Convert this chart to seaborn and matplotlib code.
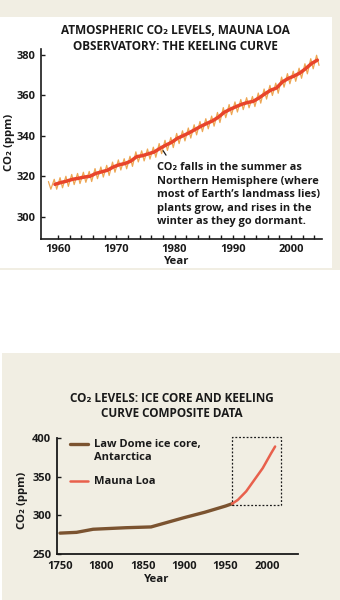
import numpy as np
import pandas as pd
import matplotlib
matplotlib.use("Agg")
import matplotlib.pyplot as plt
from matplotlib.patches import Rectangle
from matplotlib.lines import Line2D
import seaborn as sns

# ---------------- data ----------------
# Mauna Loa annual mean CO2 (ppm), 1959-2004 (red trend)
trend_years = list(range(1959, 2005))
trend_ppm = [316.0, 316.9, 317.6, 318.5, 319.0, 319.6, 320.0, 321.4, 322.2, 323.0,
             324.6, 325.7, 326.3, 327.5, 329.7, 330.2, 331.1, 332.0, 333.8, 335.4,
             336.8, 338.8, 340.1, 341.5, 343.1, 344.7, 346.1, 347.4, 349.2, 351.6,
             353.1, 354.4, 355.6, 356.5, 357.1, 358.8, 360.8, 362.6, 363.7, 366.7,
             368.4, 369.6, 371.1, 373.3, 375.8, 377.5]

# seasonal extremes per year (spring peak / autumn trough), 1958-2004
season_years = list(range(1958, 2005))
peak_ppm = [317.4, 318.5, 319.3, 320.0, 320.9, 321.4, 322.0, 322.4, 323.8, 324.6,
            325.4, 327.0, 328.1, 328.7, 329.9, 332.1, 332.6, 333.5, 334.4, 336.2,
            337.8, 339.2, 341.2, 342.5, 343.9, 345.5, 347.1, 348.5, 349.8, 351.6,
            354.0, 355.5, 356.8, 358.0, 358.9, 359.5, 361.2, 363.2, 365.0, 366.1,
            369.1, 370.8, 372.0, 373.5, 375.7, 378.2, 379.9]
trough_ppm = [313.6, 313.6, 314.3, 315.0, 315.9, 316.4, 317.0, 317.4, 318.8, 319.6,
              320.4, 322.0, 323.1, 323.7, 324.9, 327.1, 327.6, 328.5, 329.4, 331.2,
              332.8, 334.2, 336.2, 337.5, 338.9, 340.5, 342.1, 343.5, 344.8, 346.6,
              349.0, 350.5, 351.8, 353.0, 353.9, 354.5, 356.2, 358.2, 360.0, 361.1,
              364.1, 365.8, 367.0, 368.5, 370.7, 373.2, 374.9]

# composite chart
law_dome_years = [1750, 1770, 1790, 1810, 1830, 1860, 1880, 1900, 1925, 1950, 1958]
law_dome_ppm = [277, 278, 282, 283, 284, 285, 291, 297, 304, 312, 315]
mlo_years = [1958, 1965, 1975, 1985, 1995, 2005, 2010]
mlo_ppm = [315, 320, 331, 346, 361, 380, 389]

top_yticks = [300, 320, 340, 360, 380]
bot_yticks = [250, 300, 350, 400]
bot_xticks = [1750, 1800, 1850, 1900, 1950, 2000]

# ---------------- style ----------------
sns.set_style("ticks")
FAM = ["Open Sans", "DejaVu Sans"]
plt.rcParams["font.family"] = FAM
plt.rcParams["font.weight"] = "bold"
TXT = "#1a1a1a"
BEIGE = "#f1eee3"
TICK_FS = 8.0
TITLE_FS = 8.5
LAB_FS = 8.2

W, H = 340, 600
fig = plt.figure(figsize=(W / 100, H / 100), dpi=100)
fig.patch.set_facecolor("white")

def frect(x0, y0, x1, y1, color):
    fig.patches.append(Rectangle((x0 / W, 1 - y1 / H), (x1 - x0) / W, (y1 - y0) / H,
                                 transform=fig.transFigure, facecolor=color,
                                 edgecolor="none", zorder=-10))

frect(0, 0, 340, 270, BEIGE)
frect(0, 17, 332, 268, "white")
frect(2, 353, 340, 600, BEIGE)

def add_ax(x0, y0, x1, y1):
    ax = fig.add_axes([x0 / W, 1 - y1 / H, (x1 - x0) / W, (y1 - y0) / H])
    ax.patch.set_alpha(0)
    return ax

# ---------------- top chart ----------------
ax1 = add_ax(41, 49, 322, 238.5)
sx, sy = [], []
for yr, p, t in zip(season_years, peak_ppm, trough_ppm):
    sx += [yr + 0.37, yr + 0.79]
    sy += [p, t]
sdf = pd.DataFrame({"x": sx, "y": sy})
sns.lineplot(data=sdf, x="x", y="y", ax=ax1, sort=False, estimator=None,
             color="#eda653", lw=0.9)
tdf = pd.DataFrame({"x": np.array(trend_years) + 0.5, "y": trend_ppm})
sns.lineplot(data=tdf, x="x", y="y", ax=ax1, sort=False, estimator=None,
             color="#e8442a", lw=2.5)

ax1.set_xlim(1957.1, 2005.3)
ax1.set_ylim(289.2, 383)
xt = list(range(1960, 2005, 2))
ax1.set_xticks(xt)
ax1.set_xticklabels([str(v) if v % 10 == 0 else "" for v in xt])
ax1.set_yticks(top_yticks)
ax1.tick_params(direction="in", length=3, width=1, colors=TXT,
                labelsize=TICK_FS, pad=4)
for s in ["top", "right"]:
    ax1.spines[s].set_visible(False)
for s in ["left", "bottom"]:
    ax1.spines[s].set_linewidth(1.2)
    ax1.spines[s].set_color(TXT)
ax1.set_xlabel("")
ax1.set_ylabel("")
for lab in ax1.get_xticklabels() + ax1.get_yticklabels():
    lab.set_fontweight("bold")

fig.text(175 / W, 1 - 30 / H, "ATMOSPHERIC CO\u2082 LEVELS, MAUNA LOA", ha="center",
         va="center", fontsize=TITLE_FS, fontweight="bold", color=TXT, family=FAM)
fig.text(175 / W, 1 - 46 / H, "OBSERVATORY: THE KEELING CURVE", ha="center",
         va="center", fontsize=TITLE_FS, fontweight="bold", color=TXT, family=FAM)
fig.text(10 / W, 1 - 142 / H, "CO\u2082 (ppm)", rotation=90, ha="center",
         va="center", fontsize=LAB_FS, fontweight="bold", color=TXT, family=FAM)
fig.text(177 / W, 1 - 262 / H, "Year", ha="center", va="center", fontsize=LAB_FS,
         fontweight="bold", color=TXT, family=FAM)

ax1.annotate("", xy=(1977.8, 333.8), xytext=(1978.8, 329.3),
             arrowprops=dict(arrowstyle="-", color=TXT, lw=0.9))
note = ("CO\u2082 falls in the summer as\nNorthern Hemisphere (where\n"
        "most of Earth\u2019s landmass lies)\nplants grow, and rises in the\n"
        "winter as they go dormant.")
fig.text(157 / W, 1 - 162.5 / H, note, ha="left", va="top", fontsize=7.9,
         fontweight="bold", color=TXT, family=FAM, linespacing=1.31)

# ---------------- bottom chart ----------------
ax2 = add_ax(56.7, 438, 298.3, 554)
ldf = pd.DataFrame({"x": law_dome_years, "y": law_dome_ppm})
sns.lineplot(data=ldf, x="x", y="y", ax=ax2, estimator=None, color="#7b5330",
             lw=2.4)
mdf = pd.DataFrame({"x": mlo_years, "y": mlo_ppm})
sns.lineplot(data=mdf, x="x", y="y", ax=ax2, estimator=None, color="#e8604c",
             lw=1.8)
ax2.set_xlim(1746, 2038)
ax2.set_ylim(250, 400)
ax2.set_xticks(bot_xticks)
ax2.set_yticks(bot_yticks)
ax2.tick_params(axis="y", direction="in", length=3, width=1, colors=TXT,
                labelsize=TICK_FS, pad=4)
ax2.tick_params(axis="x", length=0, colors=TXT, labelsize=TICK_FS, pad=5)
for s in ["top", "right"]:
    ax2.spines[s].set_visible(False)
for s in ["left", "bottom"]:
    ax2.spines[s].set_linewidth(1.3)
    ax2.spines[s].set_color(TXT)
ax2.set_xlabel("")
ax2.set_ylabel("")
for lab in ax2.get_xticklabels() + ax2.get_yticklabels():
    lab.set_fontweight("bold")

# dashed highlight box around the Mauna Loa segment
bx0 = mlo_years[0] - 0.5
bx1 = mlo_years[-1] + 7
by0 = mlo_ppm[0] - 1
by1 = 401
ax2.add_patch(Rectangle((bx0, by0), bx1 - bx0, by1 - by0, fill=False,
                        edgecolor=TXT, lw=0.9, ls=(0, (1.5, 1.5)),
                        clip_on=False))

handles = [Line2D([], [], color="#7b5330", lw=2.4),
           Line2D([], [], color="none"),
           Line2D([], [], color="none"),
           Line2D([], [], color="#e8604c", lw=1.8)]
labels = ["Law Dome ice core,", "Antarctica", "Mg", "Mauna Loa"]
leg = ax2.legend(handles, labels, loc="upper left",
                 bbox_to_anchor=(70 / W, 1 - 439.5 / H),
                 bbox_transform=fig.transFigure, frameon=False,
                 handlelength=1.6, handletextpad=0.55, borderpad=0,
                 borderaxespad=0, labelspacing=0.12,
                 prop=dict(family=FAM, weight="bold", size=8.0))
for i, t in enumerate(leg.get_texts()):
    t.set_color(TXT)
    if i == 2:
        t.set_alpha(0)

fig.text(172 / W, 1 - 398 / H, "CO\u2082 LEVELS: ICE CORE AND KEELING",
         ha="center", va="center", fontsize=TITLE_FS, fontweight="bold",
         color=TXT, family=FAM)
fig.text(172 / W, 1 - 413.5 / H, "CURVE COMPOSITE DATA", ha="center",
         va="center", fontsize=TITLE_FS, fontweight="bold", color=TXT,
         family=FAM)
fig.text(23 / W, 1 - 500 / H, "CO\u2082 (ppm)", rotation=90, ha="center",
         va="center", fontsize=LAB_FS, fontweight="bold", color=TXT, family=FAM)
fig.text(157 / W, 1 - 580 / H, "Year", ha="center", va="center",
         fontsize=LAB_FS, fontweight="bold", color=TXT, family=FAM)

fig.savefig("out.png", dpi=100)
